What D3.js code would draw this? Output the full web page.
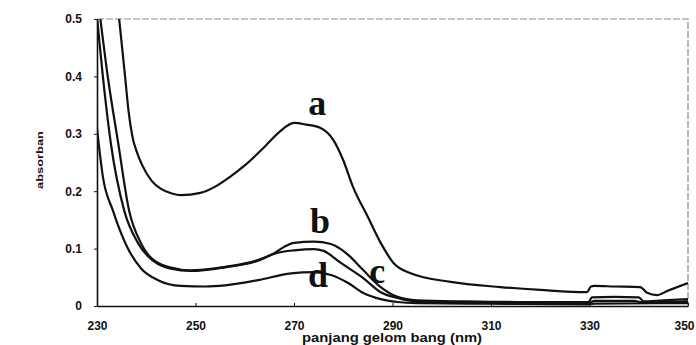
<!DOCTYPE html>
<html>
<head>
<meta charset="utf-8">
<script src="https://cdn.jsdelivr.net/npm/d3@7"></script>
<style>
  html, body { margin: 0; padding: 0; background: #fff; }
  svg { display: block; }
</style>
</head>
<body>
<div id="chart"></div>
<script>
// wavelength (nm) and absorbance
const curveA = [[234.5,0.5],[235.7,0.4],[236.4,0.34],[237.2,0.295],[238.1,0.268],[239.2,0.245],[241.1,0.218],[243,0.204],[245.2,0.196],[247,0.193],[251,0.197],[254,0.208],[257,0.225],[260,0.245],[264,0.277],[267,0.303],[270,0.319],[272.5,0.316],[275.4,0.31],[278,0.289],[280,0.254],[282,0.207],[285,0.155],[287.6,0.11],[290.2,0.075],[293.7,0.057],[301.8,0.042],[311.9,0.033],[320,0.028],[329.5,0.024],[330.3,0.034],[331,0.035],[335,0.034],[340.3,0.033],[341.7,0.023],[343.7,0.019],[346,0.027],[350,0.040]];
const curveB = [[230.4,0.52],[232.2,0.399],[234.3,0.284],[236.5,0.167],[238.9,0.11],[240.5,0.088],[242.4,0.075],[245,0.067],[249,0.062],[255.8,0.068],[262.7,0.080],[266,0.092],[268,0.103],[270,0.11],[274,0.112],[277.5,0.108],[279.5,0.099],[281,0.089],[284,0.063],[287.6,0.033],[291,0.016],[295,0.010],[305,0.008],[315,0.007],[329.8,0.007],[330.5,0.015],[335,0.016],[340,0.015],[341,0.008],[345,0.010],[350,0.012]];
const curveC = [[229.8,0.52],[231.2,0.399],[232.8,0.284],[235.5,0.167],[238.3,0.11],[240.2,0.088],[242.4,0.073],[245,0.065],[249,0.061],[255.8,0.067],[262.7,0.079],[266,0.091],[268,0.095],[270,0.097],[274,0.099],[276,0.096],[279.5,0.075],[284,0.049],[287.6,0.024],[291,0.014],[295,0.008],[305,0.006],[315,0.005],[329.8,0.005],[331,0.009],[339,0.009],[341,0.006],[350,0.008]];
const curveD = [[230,0.31],[231.2,0.225],[233.2,0.167],[236,0.105],[239,0.065],[242.4,0.045],[247,0.035],[252,0.034],[256,0.036],[262.7,0.045],[269.4,0.057],[274,0.059],[277.5,0.054],[281,0.040],[284,0.023],[287.6,0.012],[291,0.007],[295,0.005],[310,0.004],[329.8,0.003],[331,0.004],[350,0.005]];

const curveNames = ["a", "b", "c", "d"];
const curveLabels = [[274.7, 0.333], [275.3, 0.127], [286.9, 0.040], [274.9, 0.033]]; // [nm, absorbance] of each letter's baseline
const xTicks = [230, 250, 270, 290, 310, 330, 350];
const yTicks = [0, 0.1, 0.2, 0.3, 0.4, 0.5];

const width = 696, height = 345;
const margin = { left: 97, right: 688, top: 19, bottom: 306 };

const svg = d3.select("#chart").append("svg")
  .attr("width", width)
  .attr("height", height)
  .style("font-family", "'Liberation Sans', Arial, sans-serif");

const x = d3.scaleLinear().domain([230, 350]).range([margin.left, margin.right]);
const y = d3.scaleLinear().domain([0, 0.5]).range([margin.bottom, margin.top]);

svg.append("clipPath").attr("id", "plot")
  .append("rect")
  .attr("x", margin.left).attr("y", margin.top)
  .attr("width", margin.right - margin.left).attr("height", margin.bottom - margin.top);

// grey dashed frame, top and right
svg.append("path")
  .attr("d", `M${margin.left},${margin.top}H${margin.right}V${margin.bottom}`)
  .attr("fill", "none")
  .attr("stroke", "#8a8a8a")
  .attr("stroke-width", 1.2)
  .attr("stroke-dasharray", "7,2");

const line = d3.line()
  .x(d => x(d[0]))
  .y(d => y(d[1]))
  .curve(d3.curveMonotoneX);

svg.append("g").attr("clip-path", "url(#plot)")
  .selectAll("path")
  .data([curveA, curveB, curveC, curveD])
  .enter().append("path")
  .attr("fill", "none")
  .attr("stroke", "#111")
  .attr("stroke-width", 2.2)
  .attr("stroke-linejoin", "round")
  .attr("d", line);

const xAxis = svg.append("g")
  .attr("transform", `translate(0,${margin.bottom})`)
  .call(d3.axisBottom(x).tickValues(xTicks).tickSizeInner(3).tickSizeOuter(0).tickPadding(12));
xAxis.select(".domain").attr("stroke", "#111").attr("stroke-width", 1.6);
xAxis.selectAll(".tick line").attr("stroke", "#111").attr("y2", -3);
xAxis.selectAll("text")
  .attr("fill", "#111")
  .style("font-size", "12px")
  .style("font-weight", "bold");
// last label sits against the right edge
xAxis.selectAll(".tick").filter(d => d === 350).select("text")
  .attr("text-anchor", "end")
  .attr("dx", "6");

const yAxis = svg.append("g")
  .attr("transform", `translate(${margin.left},0)`)
  .call(d3.axisLeft(y).tickValues(yTicks).tickFormat(d => d === 0 ? "0" : d.toFixed(1)).tickSizeInner(3).tickSizeOuter(0).tickPadding(12));
yAxis.select(".domain").attr("stroke", "#111").attr("stroke-width", 1.6);
yAxis.selectAll(".tick line").attr("stroke", "#111");
yAxis.selectAll("text")
  .attr("fill", "#111")
  .style("font-size", "12px")
  .style("font-weight", "bold");

svg.append("text")
  .attr("x", 392)
  .attr("y", 342)
  .attr("text-anchor", "middle")
  .attr("textLength", 180)
  .attr("lengthAdjust", "spacingAndGlyphs")
  .style("font-size", "12px")
  .style("font-weight", "bold")
  .attr("fill", "#111")
  .text("panjang gelom bang (nm)");

svg.append("text")
  .attr("transform", "translate(43,160) rotate(-90)")
  .attr("text-anchor", "middle")
  .attr("textLength", 58)
  .attr("lengthAdjust", "spacingAndGlyphs")
  .style("font-size", "9px")
  .style("font-weight", "bold")
  .attr("fill", "#111")
  .text("absorban");

svg.selectAll(".curve-label")
  .data(curveNames)
  .enter().append("text")
  .attr("class", "curve-label")
  .attr("x", (d, i) => x(curveLabels[i][0]))
  .attr("y", (d, i) => y(curveLabels[i][1]))
  .attr("text-anchor", "middle")
  .style("font-family", "'Liberation Serif', 'Times New Roman', serif")
  .style("font-size", "36px")
  .style("font-weight", "bold")
  .attr("fill", "#111")
  .text(d => d);
</script>
</body>
</html>
